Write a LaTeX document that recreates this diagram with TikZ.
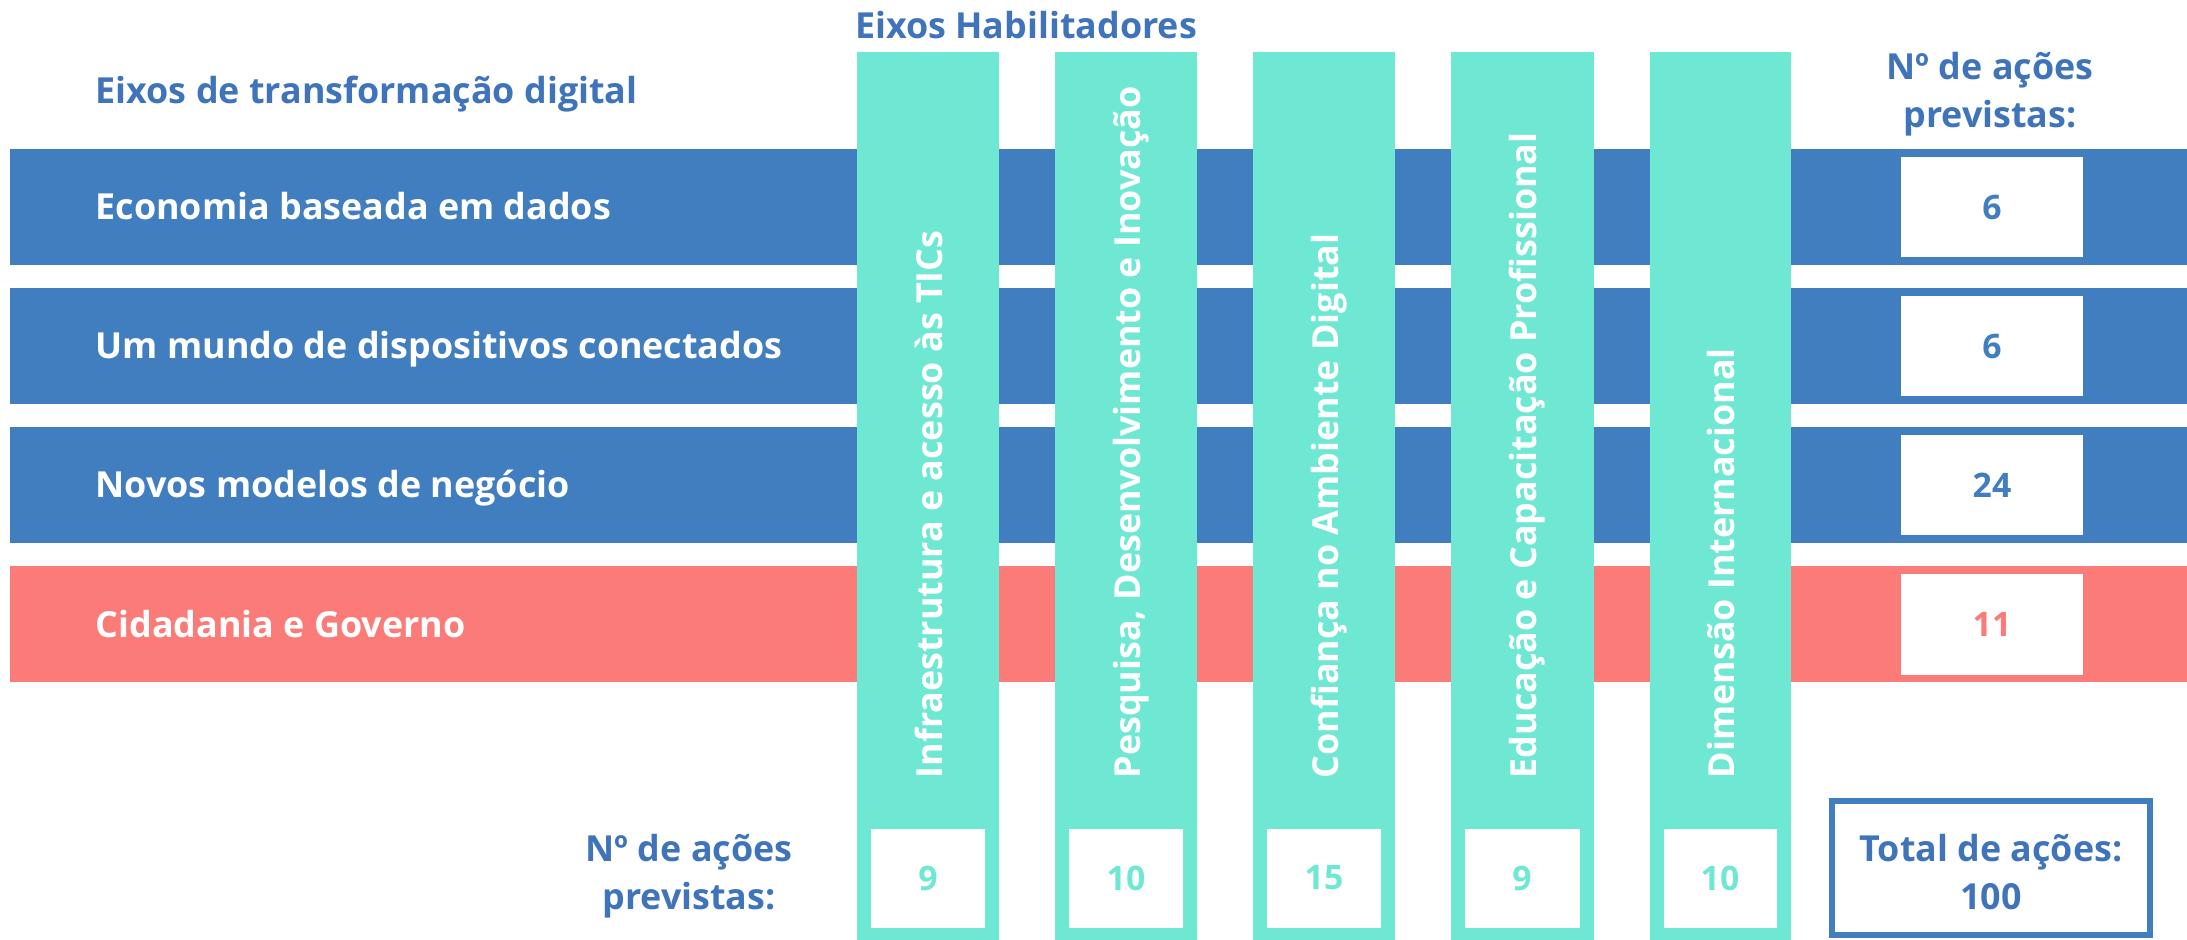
\documentclass[tikz,border=0pt]{standalone}
\usepackage{fontspec}
\setmainfont{Open Sans}
\usetikzlibrary{positioning}
\definecolor{eixoazul}{HTML}{407EC0}
\definecolor{eixovermelho}{HTML}{FA7B78}
\definecolor{habverde}{HTML}{6FE8D3}
\definecolor{tituloazul}{HTML}{3F74BA}
\tikzset{
  titulo/.style={font=\fontsize{10.2}{13.6}\selectfont\bfseries,text=tituloazul,align=center,inner sep=0pt},
  faixatexto/.style={font=\fontsize{10.2}{12}\selectfont\bfseries,text=white,anchor=base west,inner sep=0pt},
  habtexto/.style={font=\fontsize{10.2}{12}\selectfont\bfseries,text=white,rotate=90,anchor=base west,inner sep=0pt},
  numero/.style={font=\fontsize{9.6}{12}\selectfont\bfseries,inner sep=0pt}
}
\begin{document}
\begin{tikzpicture}[x=0.01cm,y=-0.01cm]
\useasboundingbox (0,0) rectangle (2187,940);
% faixas
\fill[eixoazul] (10,149) rectangle (2187,265);
\fill[eixoazul] (10,288) rectangle (2187,404);
\fill[eixoazul] (10,427) rectangle (2187,543);
\fill[eixovermelho] (10,566) rectangle (2187,682);
% eixos habilitadores
\fill[habverde] (857,52) rectangle (999,940);
\fill[habverde] (1055,52) rectangle (1197,940);
\fill[habverde] (1253,52) rectangle (1395,940);
\fill[habverde] (1451,52) rectangle (1594,940);
\fill[habverde] (1650,52) rectangle (1791,940);
\fill[white] (871,829) rectangle (985,928);
\fill[white] (1069,829) rectangle (1183,928);
\fill[white] (1267,829) rectangle (1381,928);
\fill[white] (1465,829) rectangle (1580,928);
\fill[white] (1664,829) rectangle (1777,928);
\fill[white] (1901,157) rectangle (2083,257);
\fill[white] (1901,296) rectangle (2083,396);
\fill[white] (1901,435) rectangle (2083,535);
\fill[white] (1901,574) rectangle (2083,675);
\draw[eixoazul,line width=1.8pt] (1832,801) rectangle (2150,935);

\node[titulo] (hab) at (1026,25) {Eixos Habilitadores};
\node[titulo,anchor=west] (transf) at (95,94) {Eixos de transformação digital};
\node[titulo] (acoesd) at (1990,94) {Nº de ações\\previstas:};
\node[titulo] (acoesb) at (689,876) {Nº de ações\\previstas:};
\node[titulo] (total) at (1991,872) {Total de ações:\\100};

\node[faixatexto] (f1) at (95,220) {Economia baseada em dados};
\node[faixatexto] (f2) at (95,359) {Um mundo de dispositivos conectados};
\node[faixatexto] (f3) at (95,498) {Novos modelos de negócio};
\node[faixatexto] (f4) at (95,637) {Cidadania e Governo};

\node[habtexto] (h1) at (942,779) {Infraestrutura e acesso às TICs};
\node[habtexto] (h2) at (1140,779) {Pesquisa, Desenvolvimento e Inovação};
\node[habtexto] (h3) at (1338,779) {Confiança no Ambiente Digital};
\node[habtexto] (h4) at (1536,779) {Educação e Capacitação Profissional};
\node[habtexto] (h5) at (1734,779) {Dimensão Internacional};

\node[numero,text=eixoazul] (n1) at (1992,207) {6};
\node[numero,text=eixoazul] (n2) at (1992,346) {6};
\node[numero,text=eixoazul] (n3) at (1992,485) {24};
\node[numero,text=eixovermelho] (n4) at (1992,624) {11};
\node[numero,text=habverde] (b1) at (928,878) {9};
\node[numero,text=habverde] (b2) at (1126,878) {10};
\node[numero,text=habverde] (b3) at (1324,878) {15};
\node[numero,text=habverde] (b4) at (1522,878) {9};
\node[numero,text=habverde] (b5) at (1720,878) {10};
\end{tikzpicture}
\end{document}
